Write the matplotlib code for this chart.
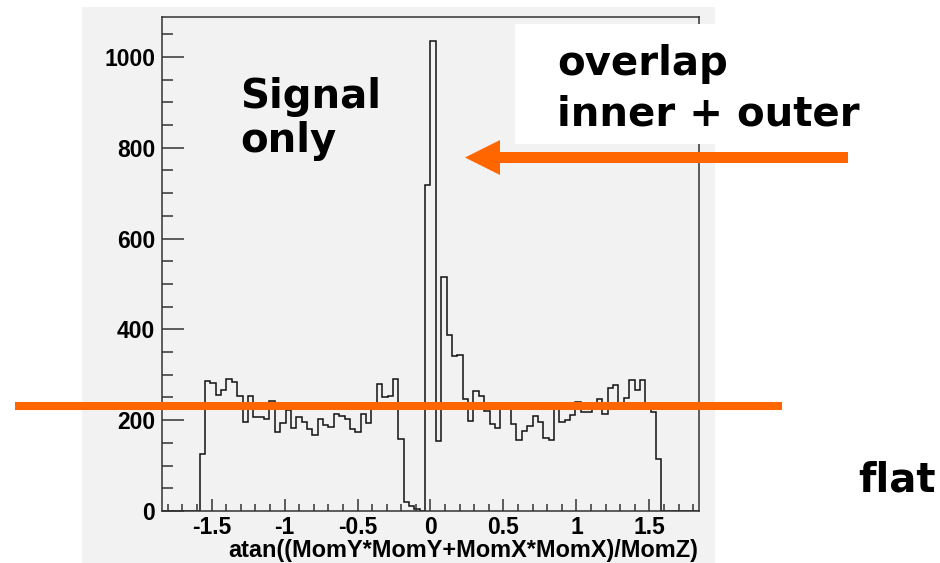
import numpy as np
import matplotlib
matplotlib.use("Agg")
import matplotlib.pyplot as plt
from matplotlib.patches import Rectangle, Polygon
from matplotlib.lines import Line2D
from matplotlib.ticker import MultipleLocator, FormatStrFormatter

plt.rcParams["axes.unicode_minus"] = False

# histogram binning: 100 bins over the axis range
n_bins = 100
x_lo, x_hi = -1.84, 1.84

# bin contents, left to right
counts = [0] * 7 + [
    126, 286, 282, 256, 266, 291, 284, 253, 195, 253,
    207, 206, 202, 242, 175, 193, 222, 183, 207, 196,
    180, 167, 202, 189, 186, 214, 209, 202, 180, 175,
    214, 193, 228, 279, 250, 253, 290, 158, 20, 11,
    4, 1, 717, 1035, 154, 516, 388, 341, 343, 247,
    198, 264, 254, 220, 192, 182, 226, 230, 191, 156,
    176, 187, 209, 196, 161, 156, 232, 196, 200, 211,
    239, 217, 218, 226, 247, 213, 270, 277, 230, 248,
    288, 266, 288, 232, 217, 115,
] + [0] * 7

x_title = "atan((MomY*MomY+MomX*MomX)/MomZ)"
y_max = 1088

W, H = 940, 563
ORANGE = "#ff6600"
CANVAS = "#f2f2f2"


def fx(x):
    return x / W


def fy(y):
    return 1 - y / H


fig = plt.figure(figsize=(W / 100, H / 100), dpi=100)
fig.patch.set_facecolor("white")

# grey pad behind the histogram
fig.add_artist(Rectangle((fx(82), 0), (715 - 82) / W, fy(7),
                         transform=fig.transFigure, facecolor=CANVAS,
                         edgecolor="none", zorder=-1))

ax = fig.add_axes([fx(162), fy(511), (699 - 162) / W, (511 - 17) / H])
ax.set_facecolor(CANVAS)

edges = np.linspace(x_lo, x_hi, n_bins + 1)
ax.stairs(counts, edges, color="#111111", lw=1.1)

ax.set_xlim(x_lo, x_hi)
ax.set_ylim(0, y_max)
ax.xaxis.set_major_locator(MultipleLocator(0.5))
ax.xaxis.set_minor_locator(MultipleLocator(0.1))
ax.yaxis.set_major_locator(MultipleLocator(200))
ax.yaxis.set_minor_locator(MultipleLocator(50))
ax.xaxis.set_major_formatter(FormatStrFormatter("%g"))

tick_font = dict(family="Liberation Sans", weight="bold", size=16.5)
for lab in ax.get_xticklabels() + ax.get_yticklabels():
    lab.set_fontproperties(matplotlib.font_manager.FontProperties(**tick_font))

ax.tick_params(axis="y", which="major", direction="in", length=15.5, width=1.1,
               color="#333333", pad=5)
ax.tick_params(axis="y", which="minor", direction="in", length=7.8, width=1.1,
               color="#333333")
ax.tick_params(axis="x", which="major", direction="in", length=8.8, width=1.1,
               color="#333333", pad=3.5)
ax.tick_params(axis="x", which="minor", direction="in", length=4.8, width=1.1,
               color="#333333")
for sp in ax.spines.values():
    sp.set_color("#333333")
    sp.set_linewidth(1.1)

fig.text(fx(698), fy(557), x_title, ha="right", va="baseline",
         family="Liberation Sans", weight="bold", size=16.9)

# white label box over the upper right corner
fig.add_artist(Rectangle((fx(515), fy(144)), (715 - 515) / W, 120 / H,
                         transform=fig.transFigure, facecolor="white",
                         edgecolor="none", zorder=3))

big = dict(family="DejaVu Sans", weight="bold", size=29, color="black", zorder=4)
fig.text(fx(240), fy(108), "Signal", va="baseline", **big)
fig.text(fx(240), fy(152), "only", va="baseline", **big)
fig.text(fx(557), fy(75), "overlap", va="baseline", **big)
fig.text(fx(557), fy(125), "inner + outer", va="baseline", **big)
fig.text(fx(858), fy(492), "flat", va="baseline", **big)

# flat level marker
fig.add_artist(Line2D([fx(15), fx(782)], [fy(406), fy(406)], lw=5.8,
                      color=ORANGE, solid_capstyle="butt", zorder=5))

# arrow pointing at the overlap peak
arrow_px = [(848, 152), (500, 152), (500, 140), (465, 157.5),
            (500, 175), (500, 163), (848, 163)]
fig.add_artist(Polygon([(fx(x), fy(y)) for x, y in arrow_px], closed=True,
                       transform=fig.transFigure, facecolor=ORANGE,
                       edgecolor="none", zorder=5))

fig.savefig("out.png", dpi=100)
